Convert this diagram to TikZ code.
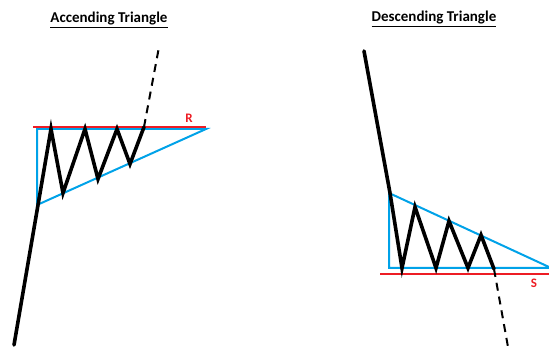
\documentclass[tikz,border=0pt]{standalone}
\usepackage{fontspec}
\setmainfont{Carlito}
\definecolor{pblue}{RGB}{0,162,232}
\definecolor{pred}{RGB}{237,28,36}
\begin{document}
\begin{tikzpicture}[x=1pt,y=-1pt,
  price/.style={line width=3.6pt,black,line join=miter,line cap=round},
  brk/.style={line width=2pt,black,dash pattern=on 8pt off 6pt},
  tri/.style={line width=2pt,pblue},
  lvl/.style={line width=2.5pt,pred},
  ttl/.style={font=\bfseries\fontsize{15}{17}\selectfont,inner sep=0pt},
  lbl/.style={font=\bfseries\fontsize{13}{15}\selectfont,text=pred,inner sep=0pt}]
\useasboundingbox (0,0) rectangle (549,347);
% Left: ascending
\node[ttl] (t1) at (109,20) {\underline{Accending Triangle}};
\coordinate (a0) at (14,345);
\coordinate (a1) at (38,205);
\coordinate (a2) at (51,129);
\coordinate (a3) at (63,193);
\coordinate (a4) at (85,129);
\coordinate (a5) at (98,179);
\coordinate (a6) at (117,129);
\coordinate (a7) at (130,164);
\coordinate (a8) at (144,127);
\coordinate (a9) at (159,47);
\coordinate (rl) at (33,127);
\coordinate (rr) at (206,127);
\coordinate (bt) at (37,129);
\coordinate (bb) at (37,205);
\coordinate (br) at (206,129);
\draw[tri] (br) -- (bt) -- (bb) -- cycle;
\draw[lvl] (rl) -- (rr);
\node[lbl] (R) at (189,118) {R};
\draw[price] (a0) -- (a1) -- (a2) -- (a3) -- (a4) -- (a5) -- (a6) -- (a7) -- (a8);
\draw[brk] (a8) -- (a9);
% Right: descending
\node[ttl] (t2) at (434,19) {\underline{Descending Triangle}};
\coordinate (d0) at (364,51);
\coordinate (d1) at (390,193);
\coordinate (d2) at (402,268);
\coordinate (d3) at (415,207);
\coordinate (d4) at (436,268);
\coordinate (d5) at (449,221);
\coordinate (d6) at (468,268);
\coordinate (d7) at (481,235);
\coordinate (d8) at (494,269);
\coordinate (d9) at (508,347);
\coordinate (ct) at (389,193);
\coordinate (cb) at (389,268);
\coordinate (cr) at (549,268);
\coordinate (ch) at (549,267);
\coordinate (sl) at (380,274);
\coordinate (sr) at (549,274);
\draw[tri] (ch) -- (ct) -- (cb) -- (cr);
\draw[lvl] (sl) -- (sr);
\node[lbl] (S) at (534,283) {S};
\draw[price] (d0) -- (d1) -- (d2) -- (d3) -- (d4) -- (d5) -- (d6) -- (d7) -- (d8);
\draw[brk] (d8) -- (d9);
\end{tikzpicture}
\end{document}
